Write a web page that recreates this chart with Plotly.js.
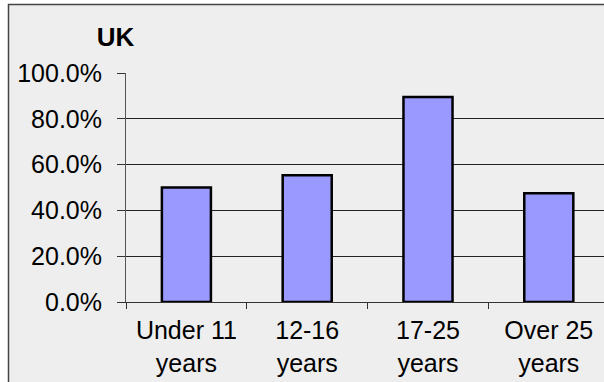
<!DOCTYPE html>
<html>
<head>
<meta charset="utf-8">
<script src="https://cdn.plot.ly/plotly-3.0.1.min.js"></script>
<style>
  html, body { margin: 0; padding: 0; background: #ffffff; }
  #chart { width: 604px; height: 382px; }
</style>
</head>
<body>
<div id="chart"></div>
<script>
// Data
const categories = ['Under 11 years', '12-16 years', '17-25 years', 'Over 25 years'];
const tickLabels = ['Under 11<br>years', '12-16<br>years', '17-25<br>years', 'Over 25<br>years'];
const shares = [0.500, 0.553, 0.895, 0.475];
const yTicks = [0, 0.2, 0.4, 0.6, 0.8, 1.0];
const chartTitle = '<b>UK</b>';

const FONT = 'Liberation Sans, Arial, Helvetica, sans-serif';

const trace = {
  type: 'bar',
  x: categories,
  y: shares,
  marker: { color: '#9999ff', line: { color: '#000000', width: 2.5 } },
  hoverinfo: 'skip'
};

const layout = {
  width: 604,
  height: 382,
  margin: { l: 126, r: 0, t: 73, b: 80, pad: 0 },
  paper_bgcolor: '#ffffff',
  plot_bgcolor: 'rgba(0,0,0,0)',
  font: { family: FONT, color: '#000000', size: 25 },
  showlegend: false,
  bargap: 0.594,
  title: {
    text: chartTitle,
    font: { family: FONT, size: 26, color: '#000000' },
    xref: 'container', x: 115.5 / 604, xanchor: 'center',
    yref: 'container', y: 1 - 37 / 382, yanchor: 'middle'
  },
  xaxis: {
    type: 'category',
    range: [-0.5, 3.457],
    tickmode: 'array',
    tickvals: categories,
    ticktext: tickLabels,
    tickson: 'boundaries',
    ticks: 'outside',
    ticklen: 6,
    tickwidth: 1,
    tickcolor: '#333333',
    showline: true,
    linecolor: '#333333',
    linewidth: 1,
    showgrid: false,
    zeroline: false,
    ticklabelstandoff: 6,
    tickfont: { family: FONT, size: 25, color: '#000000' },
    fixedrange: true
  },
  yaxis: {
    range: [0, 1],
    tickmode: 'array',
    tickvals: yTicks,
    tickformat: '.1%',
    ticks: 'outside',
    ticklen: 8,
    tickwidth: 1,
    tickcolor: '#333333',
    showline: true,
    linecolor: '#555555',
    linewidth: 1,
    showgrid: true,
    gridcolor: '#222222',
    gridwidth: 1,
    zeroline: false,
    ticklabelstandoff: 10,
    tickfont: { family: FONT, size: 25, color: '#000000' },
    fixedrange: true
  },
  shapes: [{
    type: 'rect',
    xref: 'paper', yref: 'paper',
    x0: (8.5 - 126) / 478, x1: 1.2,
    y0: -0.6, y1: (302 - 4.5) / 229,
    line: { color: '#444444', width: 1.5 },
    fillcolor: '#eeeeee',
    layer: 'below'
  }]
};

Plotly.newPlot('chart', [trace], layout, { displayModeBar: false, staticPlot: true });
</script>
</body>
</html>
